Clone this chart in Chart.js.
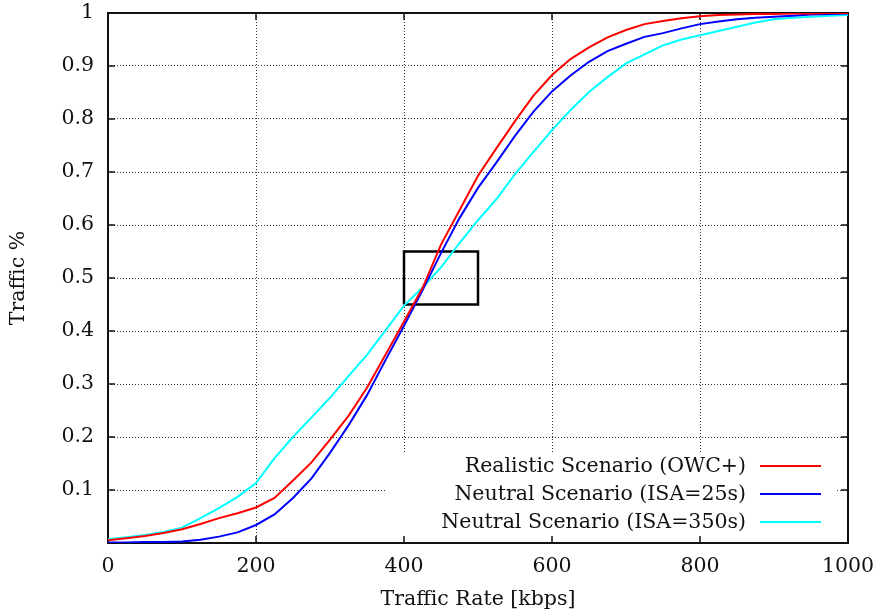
<!DOCTYPE html>
<html>
<head>
<meta charset="utf-8">
<script src="https://cdn.jsdelivr.net/npm/chart.js@4"></script>
<style>
  html, body { margin: 0; padding: 0; background: #fff; }
  #wrap { width: 885px; height: 616px; }
</style>
</head>
<body>
<div id="wrap"><canvas id="myChart" width="885" height="616"></canvas></div>
<script>
// Traffic rate samples (kbps)
const rates = [0, 25, 50, 75, 100, 125, 150, 175, 200, 225, 250, 275, 300, 325, 350, 375, 400,
  425, 450, 475, 500, 525, 550, 575, 600, 625, 650, 675, 700, 725, 750, 775, 800,
  825, 850, 875, 900, 925, 950, 975, 1000];

// Cumulative share of traffic for each scenario
const realisticOwc = [0.005, 0.009, 0.013, 0.019, 0.026, 0.036, 0.047, 0.056, 0.067, 0.085, 0.118, 0.152, 0.195,
  0.240, 0.293, 0.355, 0.418, 0.481, 0.563, 0.628, 0.693, 0.745, 0.796, 0.844, 0.883, 0.913, 0.935, 0.954, 0.968,
  0.979, 0.985, 0.990, 0.994, 0.996, 0.997, 0.998, 0.998, 0.999, 0.999, 1.0, 1.0];
const neutralIsa25 = [0.001, 0.001, 0.002, 0.002, 0.003, 0.006, 0.012, 0.020, 0.034, 0.054, 0.085, 0.122, 0.170,
  0.222, 0.279, 0.345, 0.410, 0.477, 0.547, 0.613, 0.670, 0.718, 0.768, 0.814, 0.852, 0.882, 0.908, 0.928, 0.942,
  0.955, 0.962, 0.971, 0.979, 0.984, 0.988, 0.991, 0.993, 0.995, 0.997, 0.998, 0.999];
const neutralIsa350 = [0.007, 0.011, 0.015, 0.021, 0.029, 0.047, 0.066, 0.087, 0.113, 0.160, 0.200, 0.237, 0.274,
  0.315, 0.355, 0.401, 0.448, 0.482, 0.520, 0.566, 0.609, 0.649, 0.696, 0.738, 0.779, 0.817, 0.851, 0.879, 0.905,
  0.922, 0.939, 0.950, 0.958, 0.966, 0.974, 0.982, 0.988, 0.991, 0.993, 0.995, 0.996];

// Highlight box around the crossing point
const boxX = [400, 500, 500, 400, 400];
const boxY = [0.45, 0.45, 0.55, 0.55, 0.45];

const seriesLabels = ['Realistic Scenario (OWC+)', 'Neutral Scenario (ISA=25s)', 'Neutral Scenario (ISA=350s)'];
const seriesColors = ['#ff0000', '#0000ff', '#00ffff'];
const xTicks = [0, 200, 400, 600, 800, 1000];

const FONT = 'DejaVu Serif';
const FONT_SIZE = 20.5;

const toPoints = (xs, ys) => xs.map((x, i) => ({ x: x, y: ys[i] }));

// gnuplot-style frame: white key box, inward ticks on all sides, border
const framePlugin = {
  id: 'frame',
  beforeDatasetsDraw(chart) {
    const ctx = chart.ctx;
    const a = chart.chartArea;
    const xs = chart.scales.x, ys = chart.scales.y;
    ctx.save();
    // key background hides the grid under it
    ctx.fillStyle = '#fff';
    ctx.fillRect(385, 453, 452, a.bottom - 453);
    ctx.strokeStyle = '#111';
    ctx.lineWidth = 1.5;
    const tl = 7;
    ctx.beginPath();
    xTicks.forEach(v => {
      const px = xs.getPixelForValue(v);
      ctx.moveTo(px, a.bottom); ctx.lineTo(px, a.bottom - tl);
      ctx.moveTo(px, a.top); ctx.lineTo(px, a.top + tl);
    });
    ys.ticks.forEach(t => {
      const py = ys.getPixelForValue(t.value);
      ctx.moveTo(a.left, py); ctx.lineTo(a.left + tl, py);
      ctx.moveTo(a.right, py); ctx.lineTo(a.right - tl, py);
    });
    ctx.stroke();
    ctx.lineWidth = 2;
    ctx.strokeRect(a.left, a.top, a.right - a.left, a.bottom - a.top);
    ctx.restore();
  },
  afterDatasetsDraw(chart) {
    const ctx = chart.ctx;
    ctx.save();
    ctx.font = FONT_SIZE + 'px "' + FONT + '"';
    ctx.textAlign = 'right';
    ctx.textBaseline = 'middle';
    const rows = [466, 494, 522];
    seriesLabels.forEach((label, i) => {
      ctx.fillStyle = '#111';
      ctx.fillText(label, 746, rows[i] + 1);
      ctx.strokeStyle = seriesColors[i];
      ctx.lineWidth = 2;
      ctx.beginPath();
      ctx.moveTo(760, rows[i]);
      ctx.lineTo(821, rows[i]);
      ctx.stroke();
    });
    ctx.restore();
  }
};

const gridOpts = { color: '#333', drawTicks: false, lineWidth: 1 };
const borderOpts = { display: false, dash: [1, 2] };

const ctx = document.getElementById('myChart').getContext('2d');
new Chart(ctx, {
  type: 'line',
  data: {
    datasets: [
      { label: seriesLabels[0], data: toPoints(rates, realisticOwc), borderColor: seriesColors[0], borderWidth: 2 },
      { label: seriesLabels[1], data: toPoints(rates, neutralIsa25), borderColor: seriesColors[1], borderWidth: 2 },
      { label: seriesLabels[2], data: toPoints(rates, neutralIsa350), borderColor: seriesColors[2], borderWidth: 2 },
      { label: 'box', data: toPoints(boxX, boxY), borderColor: '#000', borderWidth: 2.5 }
    ]
  },
  options: {
    responsive: false,
    animation: false,
    events: [],
    elements: { point: { radius: 0 }, line: { tension: 0 } },
    layout: { padding: { top: 13, right: 37, left: 0, bottom: 0 } },
    plugins: { legend: { display: false }, tooltip: { enabled: false } },
    scales: {
      x: {
        type: 'linear',
        min: 0,
        max: 1000,
        afterFit: s => { s.height = 73; s.paddingLeft = 0; s.paddingRight = 0; },
        afterBuildTicks: s => { s.ticks = xTicks.map(v => ({ value: v })); },
        grid: gridOpts,
        border: borderOpts,
        ticks: {
          padding: 11,
          color: '#111',
          font: { family: FONT, size: FONT_SIZE },
          maxRotation: 0,
          callback: v => String(v)
        },
        title: { display: true, text: 'Traffic Rate [kbps]', color: '#111', font: { family: FONT, size: FONT_SIZE }, padding: { top: 4, bottom: 4 } }
      },
      y: {
        min: 0,
        max: 1,
        afterFit: s => { s.width = 108; s.paddingTop = 0; s.paddingBottom = 0; },
        grid: gridOpts,
        border: borderOpts,
        ticks: {
          stepSize: 0.1,
          padding: 14,
          color: '#111',
          font: { family: FONT, size: FONT_SIZE },
          callback: v => (v === 0 ? '' : String(+v.toFixed(1)))
        },
        title: { display: true, text: 'Traffic %', color: '#111', font: { family: FONT, size: FONT_SIZE }, padding: { top: 6, bottom: 4 } }
      }
    }
  },
  plugins: [framePlugin]
});
</script>
</body>
</html>
